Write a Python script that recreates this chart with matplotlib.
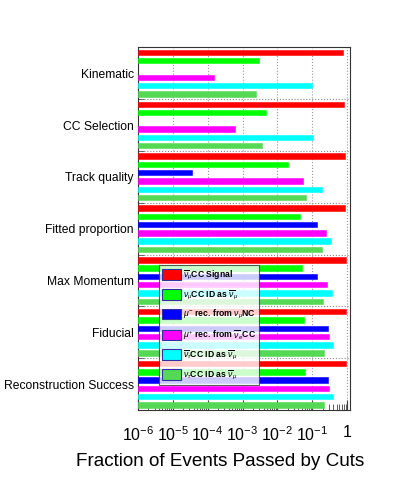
import matplotlib
matplotlib.use('Agg')
import matplotlib.pyplot as plt
import numpy as np
from matplotlib.ticker import FixedLocator, NullFormatter, LogLocator

plt.rcParams.update({
    'font.family': ['Liberation Sans', 'DejaVu Sans'],
    'mathtext.fontset': 'custom',
    'mathtext.rm': 'Liberation Sans',
    'mathtext.it': 'Liberation Sans:italic',
    'mathtext.bf': 'Liberation Sans:bold',
})

# cut names, top to bottom
cuts = ["Kinematic", "CC Selection", "Track quality", "Fitted proportion",
        "Max Momentum", "Fiducial", "Reconstruction Success"]

# fraction passed per sample (nan = nothing drawn)
sig_numubar  = [0.76, 0.81, 0.85, 0.89, 0.90, 0.90, 0.90]
numu_id      = [0.0029, 0.0047, 0.020, 0.044, 0.049, 0.058, 0.062]
mu_minus_nc  = [np.nan, np.nan, 3.6e-5, 0.14, 0.14, 0.28, 0.28]
mu_plus_nue  = [1.5e-4, 6.1e-4, 0.053, 0.24, 0.26, 0.30, 0.30]
nutaubar_id  = [0.095, 0.105, 0.187, 0.35, 0.36, 0.39, 0.39]
nutau_id     = [0.0024, 0.0036, 0.068, 0.184, 0.196, 0.22, 0.22]

series = [sig_numubar, numu_id, mu_minus_nc, mu_plus_nue, nutaubar_id, nutau_id]
labels = [r"$\overline{\nu}_{\mu}$CC Signal",
          r"$\nu_{\mu}$CC ID as $\overline{\nu}_{\mu}$",
          r"$\mu^{-}$ rec. from $\nu_{\mu}$NC",
          r"$\mu^{+}$ rec. from $\overline{\nu}_{e}$CC",
          r"$\overline{\nu}_{\tau}$CC ID as $\overline{\nu}_{\mu}$",
          r"$\nu_{\tau}$CC ID as $\overline{\nu}_{\mu}$"]
colors = ['#ff0000', '#00ff00', '#0000ff', '#ff00ff', '#00ffff', '#55d955']

fig = plt.figure(figsize=(3.95, 4.82), dpi=100)
ax = fig.add_axes([0.349, 0.149, 0.537, 0.753])

xmin = 1e-6
yc = np.arange(len(cuts))
handles = []
for i, (vals, col, lab) in enumerate(zip(series, colors, labels)):
    v = np.array(vals, dtype=float)
    y = yc + (i - 2.5) * 0.16
    ok = ~np.isnan(v)
    b = ax.barh(y[ok], v[ok] - xmin, left=xmin, height=0.105, color=col,
                edgecolor=col, linewidth=0.4, label=lab, zorder=3)
    handles.append(b)

ax.set_xscale('log')
ax.set_xlim(1e-6, 1.2)
ax.set_ylim(len(cuts) - 0.5, -0.5)

ax.set_yticks(yc)
ax.set_yticklabels(cuts, fontsize=8.7)
ax.yaxis.set_minor_locator(FixedLocator(np.arange(0.5, len(cuts) - 0.5, 1)))
ax.tick_params(axis='y', which='major', length=0, pad=3)
ax.tick_params(axis='y', which='minor', length=4, direction='in', color='#555555')

ax.set_xticks([1e-6, 1e-5, 1e-4, 1e-3, 1e-2, 1e-1, 1])
ax.set_xticklabels([r"$10^{-6}$", r"$10^{-5}$", r"$10^{-4}$", r"$10^{-3}$",
                    r"$10^{-2}$", r"$10^{-1}$", "1"], fontsize=11.5)
ax.xaxis.set_minor_locator(LogLocator(base=10, subs=np.arange(2, 10), numticks=20))
ax.xaxis.set_minor_formatter(NullFormatter())
ax.tick_params(axis='x', which='major', direction='in', length=7, pad=11, color='#444444')
ax.tick_params(axis='x', which='minor', direction='in', length=4, color='#444444')
ax.set_xlabel("Fraction of Events Passed by Cuts", fontsize=13.6)
ax.xaxis.set_label_coords(0.387, -0.118)

ax.grid(True, axis='x', which='major', linestyle=':', color='#999999', linewidth=0.8, zorder=0)
ax.grid(True, axis='y', which='minor', linestyle=':', color='#888888', linewidth=0.8, zorder=0)
ax.set_axisbelow(True)
for s in ax.spines.values():
    s.set_linewidth(0.8)
    s.set_color('#333333')

leg = ax.legend(handles=handles, loc='upper left', bbox_to_anchor=(0.099, 0.40),
                fontsize=6.2, frameon=True, fancybox=False, borderpad=0.4,
                labelspacing=0.78, handlelength=2.2, handleheight=1.5,
                handletextpad=0.2, borderaxespad=0)
leg.get_frame().set_edgecolor('#333333')
leg.get_frame().set_linewidth(0.8)
leg.set_zorder(5)
for h in leg.legend_handles:
    h.set_edgecolor('#3030a0')
    h.set_linewidth(0.8)
for t in leg.get_texts():
    t.set_fontweight('bold')

fig.savefig("out.png", dpi=100)
